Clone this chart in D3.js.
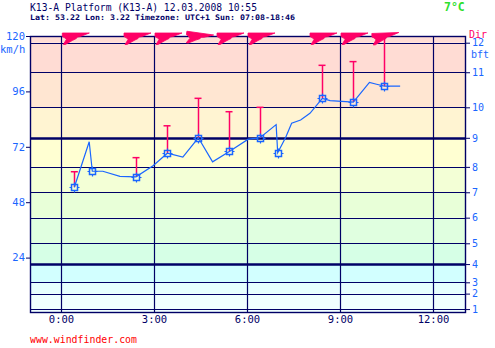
<!DOCTYPE html>
<html>
<head>
<meta charset="utf-8">
<script src="https://cdn.jsdelivr.net/npm/d3@7"></script>
<style>
  html, body { margin: 0; padding: 0; background: #fff; }
  svg { display: block; }
  text { font-family: "DejaVu Sans Mono", "Liberation Mono", monospace; }
</style>
</head>
<body>
<svg id="chart" width="495" height="348"></svg>
<script>
// Station header
const titleText = "K13-A Platform (K13-A) 12.03.2008 10:55";
const infoText = "Lat: 53.22 Lon: 3.22 Timezone: UTC+1 Sun: 07:08-18:46";
const tempText = "7°C";

// Axis ticks
const kmhTicks = [24, 48, 72, 96, 120];
const hourTicks = [0, 3, 6, 9, 12];
const hourLabels = ["0:00", "3:00", "6:00", "9:00", "12:00"];
// Beaufort scale boundaries in km/h (lower limit of each force)
const bftLevels = [1, 2, 3, 4, 5, 6, 7, 8, 9, 10, 11, 12];
const bftKmh = [1.7, 8.4, 13.3, 21.2, 30.2, 41.3, 52.3, 63.3, 75.9, 89.1, 104.3, 117.1];
// Band fill between consecutive boundaries (first: below force 1, last: above force 12)
const bandColors = ["#f0ffff", "#f0ffff", "#e6ffff", "#d2ffff", "#d6ffe6", "#e0ffe0",
                    "#e8ffd8", "#f3ffd6", "#ffffd2", "#fff4d2", "#ffe6d2", "#ffdcd4", "#ffdcd4"];

// Continuous wind speed trace (hours after midnight, km/h)
const traceHours = [0.43, 0.91, 1.01, 1.35, 1.90, 2.42, 2.97, 3.43, 3.93, 4.43, 4.89, 5.43,
                    6.04, 6.42, 6.94, 6.99, 7.25, 7.44, 7.73, 8.03, 8.43, 8.68, 9.43, 9.95,
                    10.18, 10.43, 10.94];
const traceKmh = [54.5, 74.2, 61.4, 61.4, 59.2, 59.0, 63.8, 69.2, 67.5, 75.9, 65.5, 70.0,
                  75.3, 75.9, 81.6, 69.4, 76.1, 82.2, 83.6, 86.5, 93.0, 92.0, 91.4, 99.9,
                  99.1, 98.3, 98.3];

// Observations (markers)
const obsHours = [0.43, 1.0, 2.42, 3.42, 4.42, 5.42, 6.42, 7.0, 8.42, 9.42, 10.42];
const obsKmh = [54.5, 61.4, 59.0, 69.2, 75.9, 70.0, 75.9, 69.4, 93.0, 91.4, 98.3];

// Gusts and wind direction (degrees, wind from)
const gustHours = [0.43, 2.42, 3.42, 4.42, 5.42, 6.42, 8.42, 9.42, 10.42];
const gustKmh = [61.2, 67.3, 81.1, 93.0, 87.2, 89.1, 107.3, 108.9, 121];
const dirDeg = [250, 250, 250, 258, 250, 250, 250, 250, 248];

const svg = d3.select("#chart");
const navy = "#000066";
const blue = "#1a66ff";
const pink = "#ff0066";

const x = d3.scaleLinear().domain([-1, 13]).range([30, 464]);
const y = d3.scaleLinear().domain([0, 120]).range([313, 36]);
const plotTop = 36, plotBottom = 312, plotLeft = 30, plotRight = 465;

// Header
svg.append("text").attr("x", 30).attr("y", 11)
  .attr("font-size", 10).attr("fill", navy)
  .attr("textLength", 227).attr("lengthAdjust", "spacingAndGlyphs")
  .text(titleText);
svg.append("text").attr("x", 30).attr("y", 19.5)
  .attr("font-size", 7.6).attr("font-weight", "bold").attr("fill", navy)
  .attr("textLength", 265).attr("lengthAdjust", "spacingAndGlyphs")
  .text(infoText);
svg.append("text").attr("x", 444).attr("y", 11)
  .attr("font-size", 11.5).attr("font-weight", "bold").attr("fill", "#2ee02e")
  .text(tempText);

// Beaufort colour bands
const bounds = [0].concat(bftKmh).concat([120]);
const bands = d3.range(bounds.length - 1).map(i => ({ lo: bounds[i], hi: bounds[i + 1], c: bandColors[i] }));
svg.append("g").selectAll("rect").data(bands).join("rect")
  .attr("x", plotLeft).attr("width", plotRight - plotLeft)
  .attr("y", d => Math.max(plotTop, y(d.hi)))
  .attr("height", d => Math.min(plotBottom, y(d.lo)) - Math.max(plotTop, y(d.hi)))
  .attr("fill", d => d.c);

// Beaufort boundary lines (forces 4 and 9 emphasised)
svg.append("g").selectAll("line").data(bftKmh).join("line")
  .attr("x1", plotLeft).attr("x2", plotRight)
  .attr("y1", d => Math.round(y(d)) + 0.5).attr("y2", d => Math.round(y(d)) + 0.5)
  .attr("stroke", navy)
  .attr("stroke-width", (d, i) => (bftLevels[i] === 4 || bftLevels[i] === 9) ? 2.5 : 1.2);

// Vertical hour grid
svg.append("g").selectAll("line").data(hourTicks).join("line")
  .attr("x1", d => Math.round(x(d)) + 0.5).attr("x2", d => Math.round(x(d)) + 0.5)
  .attr("y1", plotTop).attr("y2", plotBottom)
  .attr("stroke", navy).attr("stroke-width", 1.2);

// Frame
svg.append("rect").attr("x", plotLeft + 0.5).attr("y", plotTop + 0.5)
  .attr("width", plotRight - plotLeft).attr("height", plotBottom - plotTop)
  .attr("fill", "none").attr("stroke", navy).attr("stroke-width", 1.4);

// Left axis (km/h)
const leftAxis = svg.append("g").attr("transform", `translate(${plotLeft},0)`)
  .call(d3.axisLeft(y).tickValues(kmhTicks).tickSize(4).tickPadding(1).tickFormat(d3.format("d")));
leftAxis.select(".domain").remove();
leftAxis.selectAll("line").attr("stroke", navy);
leftAxis.selectAll("text").attr("fill", blue).attr("font-size", 10.5)
  .attr("font-family", "DejaVu Sans Mono, monospace");
svg.append("text").attr("x", 0).attr("y", 53).attr("font-size", 10.5).attr("fill", blue).text("km/h");

// Right axis (Beaufort)
const rightAxis = svg.append("g").attr("transform", `translate(${plotRight},0)`)
  .call(d3.axisRight(y).tickValues(bftKmh).tickSize(5).tickPadding(2)
    .tickFormat((d, i) => bftLevels[i]));
rightAxis.select(".domain").remove();
rightAxis.selectAll("line").attr("stroke", navy);
rightAxis.selectAll("text").attr("fill", blue).attr("font-size", 10)
  .attr("font-family", "DejaVu Sans Mono, monospace");
svg.append("text").attr("x", 471).attr("y", 58).attr("font-size", 10).attr("fill", blue).text("bft");
svg.append("text").attr("x", 469).attr("y", 37.5).attr("font-size", 10).attr("fill", pink).text("Dir");

// Bottom axis (time)
const bottomAxis = svg.append("g").attr("transform", `translate(0,${plotBottom})`)
  .call(d3.axisBottom(x).tickValues(hourTicks).tickSize(0).tickPadding(4)
    .tickFormat((d, i) => hourLabels[i]));
bottomAxis.select(".domain").remove();
bottomAxis.selectAll("text").attr("fill", navy).attr("font-size", 10.5)
  .attr("font-family", "DejaVu Sans Mono, monospace");

// Gust bars
const gusts = gustHours.map((h, i) => ({ h, g: gustKmh[i], v: obsKmh[obsHours.indexOf(h)], d: dirDeg[i] }));
svg.append("defs").append("clipPath").attr("id", "plotclip")
  .append("rect").attr("x", plotLeft).attr("y", plotTop).attr("width", plotRight - plotLeft).attr("height", plotBottom - plotTop);
const gustG = svg.append("g").attr("clip-path", "url(#plotclip)");
gustG.selectAll("line.stem").data(gusts).join("line").attr("class", "stem")
  .attr("x1", d => Math.round(x(d.h)) + 0.5).attr("x2", d => Math.round(x(d.h)) + 0.5)
  .attr("y1", d => y(d.v)).attr("y2", d => y(d.g))
  .attr("stroke", pink).attr("stroke-width", 1.5);
gustG.selectAll("line.cap").data(gusts).join("line").attr("class", "cap")
  .attr("x1", d => x(d.h) - 3.5).attr("x2", d => x(d.h) + 3.5)
  .attr("y1", d => y(d.g)).attr("y2", d => y(d.g))
  .attr("stroke", pink).attr("stroke-width", 1.5);

// Wind speed trace
const line = d3.line().x(d => x(d[0])).y(d => y(d[1]));
svg.append("path").datum(traceHours.map((h, i) => [h, traceKmh[i]]))
  .attr("d", line).attr("fill", "none").attr("stroke", blue).attr("stroke-width", 1.2);

// Observation markers
const obs = obsHours.map((h, i) => ({ h, v: obsKmh[i] }));
const mk = svg.append("g").selectAll("g").data(obs).join("g")
  .attr("transform", d => `translate(${Math.round(x(d.h)) + 0.5},${Math.round(y(d.v)) + 0.5})`);
mk.append("rect").attr("x", -3).attr("y", -3).attr("width", 6).attr("height", 6)
  .attr("fill", "none").attr("stroke", blue).attr("stroke-width", 1.5);
mk.append("path").attr("d", "M0,-5V-3M0,3V5M-5,0H-3M3,0H5")
  .attr("stroke", blue).attr("stroke-width", 1.2);

// Wind direction arrows along the top edge (jagged arrowhead pointing downwind)
const arrowShape = "M-13,-5.5L14,-5.5L5,-2L2,-1.5L1,0L-3,2L-10,6L-12,6L-9,1L-11,-1L-13,-2Z";
svg.append("g").selectAll("path").data(gusts).join("path")
  .attr("d", arrowShape)
  .attr("transform", d => `translate(${x(d.h) + 1},${38.5}) rotate(${d.d - 250})`)
  .attr("fill", pink).attr("stroke", pink).attr("stroke-width", 0.8);

// Footer
svg.append("text").attr("x", 30).attr("y", 343).attr("font-size", 9.8).attr("fill", "#ff0000")
  .attr("textLength", 107).attr("lengthAdjust", "spacingAndGlyphs")
  .text("www.windfinder.com");
</script>
</body>
</html>
